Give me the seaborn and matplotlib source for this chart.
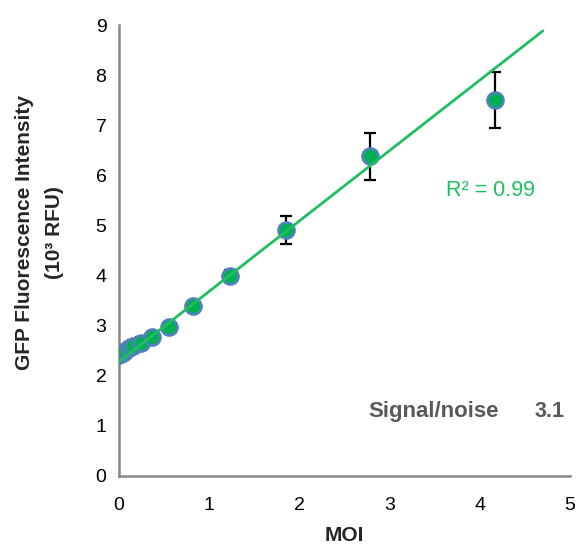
import matplotlib
matplotlib.use("Agg")
import matplotlib.pyplot as plt
import seaborn as sns
import numpy as np
import pandas as pd

moi = [0.0, 0.05, 0.07, 0.11, 0.16, 0.24, 0.37, 0.55, 0.82, 1.23, 1.85, 2.78, 4.17]
gfp = [2.42, 2.46, 2.50, 2.55, 2.60, 2.65, 2.77, 2.98, 3.40, 3.99, 4.90, 6.38, 7.50]
err = [0.12, 0.10, 0.10, 0.10, 0.12, 0.12, 0.08, 0.08, 0.08, 0.12, 0.28, 0.47, 0.56]

trend_slope = 1.405
trend_intercept = 2.28
trend_x = [0.0, 4.7]

df = pd.DataFrame({"MOI": moi, "GFP": gfp, "err": err})

sns.set_style("white")
plt.rcParams["font.family"] = ["Liberation Sans", "DejaVu Sans"]

fig = plt.figure(figsize=(5.79, 5.52), dpi=100)
ax = fig.add_axes([0.2055, 0.1377, 0.779, 0.817])

ax.errorbar(df["MOI"], df["GFP"], yerr=df["err"], fmt="none", ecolor="black",
            elinewidth=1.6, capsize=4, capthick=1.6, zorder=2)
sns.scatterplot(data=df, x="MOI", y="GFP", ax=ax, s=130, color="#00b050",
                edgecolor="#4f81bd", linewidth=2, zorder=3, legend=False)
tx = np.array(trend_x)
ax.plot(tx, trend_intercept + trend_slope * tx, color="#1fbf5f", lw=2, zorder=4)

ax.set_xlim(0, 5)
ax.set_ylim(0, 9)
ax.set_xticks(range(0, 6))
ax.set_yticks(range(0, 10))
for s in ["top", "right"]:
    ax.spines[s].set_visible(False)
for s in ["left", "bottom"]:
    ax.spines[s].set_color("#868686")
    ax.spines[s].set_linewidth(1.8)
ax.tick_params(axis="both", direction="out", length=5, width=1.5, color="#868686",
               labelsize=14, labelcolor="black", pad=4)
ax.tick_params(axis="x", pad=10)

ax.set_xlabel("MOI", fontsize=15, fontweight="bold", labelpad=9)
ax.set_ylabel("GFP Fluorescence Intensity\n(10³ RFU)", fontsize=15,
              fontweight="bold", linespacing=1.75)
ax.yaxis.set_label_coords(-0.122, 0.54)

ax.text(4.12, 5.7, "R² = 0.99", color="#1fbf5f", fontsize=15.5, ha="center", va="center")
ax.text(2.76, 1.28, "Signal/noise", color="#595959", fontsize=16, fontweight="bold",
        ha="left", va="center")
ax.text(4.61, 1.28, "3.1", color="#595959", fontsize=15.5, fontweight="bold",
        ha="left", va="center")

fig.savefig("out.png", dpi=100)
